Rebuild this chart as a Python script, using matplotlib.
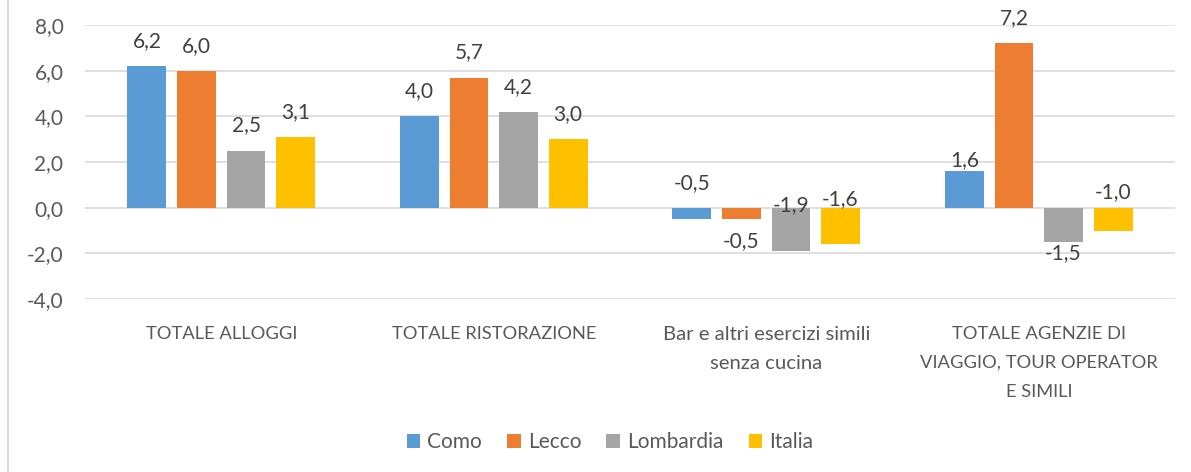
import matplotlib
matplotlib.use("Agg")
import matplotlib.pyplot as plt
from matplotlib.lines import Line2D
import numpy as np

categories = ["TOTALE ALLOGGI", "TOTALE RISTORAZIONE",
              "Bar e altri esercizi simili\nsenza cucina",
              "TOTALE AGENZIE DI\nVIAGGIO, TOUR OPERATOR\nE SIMILI"]
series_names = ["Como", "Lecco", "Lombardia", "Italia"]
como = [6.2, 4.0, -0.5, 1.6]
lecco = [6.0, 5.7, -0.5, 7.2]
lombardia = [2.5, 4.2, -1.9, -1.5]
italia = [3.1, 3.0, -1.6, -1.0]
yticks = [-4, -2, 0, 2, 4, 6, 8]

colors = ["#5B9BD5", "#ED7D31", "#A5A5A5", "#FFC000"]
# label centre offsets (pixels) from the bar end, positive = up
label_offsets = [
    [25, 25, 36, 11],
    [25, 25, -22, 25],
    [25, 25, 46, -11],
    [25, 25, 45.5, 38.5],
]
cat_sizes = [13.2, 13.2, 14.6, 13.2]
cat_linespacing = [2.0, 2.0, 1.82, 2.0]

plt.rcParams['font.family'] = ['Lato', 'DejaVu Sans']
txt_color = "#595959"
fs = 15

fig = plt.figure(figsize=(11.91, 4.72), dpi=100)
ax = fig.add_axes([85/1191, 1-299/472, (1175-85)/1191, (299-25)/472])

x = np.arange(len(categories))
pitch = 0.1817
width = 0.143
all_series = [como, lecco, lombardia, italia]
for i, (name, vals) in enumerate(zip(series_names, all_series)):
    pos = x + (i - 1.5) * pitch
    ax.bar(pos, vals, width=width, color=colors[i], label=name, zorder=3)
    for j, v in enumerate(vals):
        ax.annotate(f"{v:.1f}".replace(".", ","), xy=(pos[j], v),
                    xytext=(0, label_offsets[i][j]), textcoords="offset pixels",
                    ha="center", va="center", fontsize=fs, color="#404040",
                    zorder=5, annotation_clip=False)

ax.set_xlim(-0.5, len(categories) - 0.5)
ax.set_ylim(-4, 8)
ax.set_yticks(yticks)
ax.set_yticklabels([f"{t:.1f}".replace(".", ",") for t in yticks])
ax.set_xticks(x)
ax.set_xticklabels(categories)
for lab, s, ls in zip(ax.get_xticklabels(), cat_sizes, cat_linespacing):
    lab.set_fontsize(s)
    lab.set_linespacing(ls)
ax.tick_params(axis="both", length=0, labelcolor=txt_color)
ax.tick_params(axis="y", labelsize=fs, pad=15.5)
ax.tick_params(axis="x", pad=19.5)
ax.grid(axis="y", color="#D9D9D9", linewidth=1.2, zorder=0)
for s in ax.spines.values():
    s.set_visible(False)

leg = fig.legend(loc="center", bbox_to_anchor=(610/1191, 1-442/472), ncol=4,
                 frameon=False, fontsize=fs, handlelength=0.65, handleheight=0.65,
                 handletextpad=0.35, columnspacing=1.2, labelcolor=txt_color)

fig.add_artist(Line2D([8/1191, 8/1191], [0, 1], transform=fig.transFigure,
                      color="#D9D9D9", linewidth=1.5))

fig.savefig("out.png", dpi=100, facecolor="white")
